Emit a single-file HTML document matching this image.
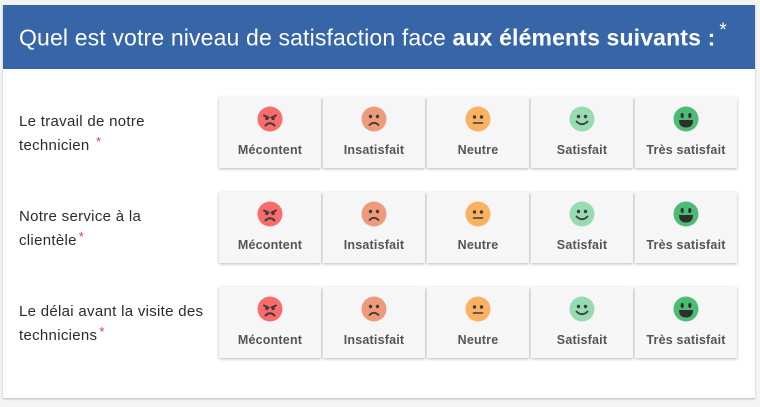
<!DOCTYPE html>
<html><head><meta charset="utf-8">
<style>
*{margin:0;padding:0;box-sizing:border-box}
html,body{width:760px;height:407px;background:#f4f4f4;overflow:hidden;font-family:"Liberation Sans",sans-serif}
.card{position:absolute;left:3px;top:5px;width:752px;height:393px;background:#fff;box-shadow:0 1px 2px rgba(0,0,0,.25)}
.hdr{position:absolute;left:0;top:0;width:752px;height:64px;background:#3665a8;color:#fff}
.hdr .t{position:absolute;left:16px;top:16px;font-size:23px;white-space:nowrap;letter-spacing:0.15px}
.hdr b{font-weight:bold}
.hdr sup{font-size:19px;position:relative;top:-1px;margin-left:4px}
.q{position:absolute;left:19px;font-size:15px;color:#2b2b2b;line-height:24px;letter-spacing:0.3px}
.q .s{color:#e8383d;font-size:13px;position:relative;top:-4px;margin-left:2px}
.btn{position:absolute;width:102px;height:71px;background:#f6f6f6;box-shadow:0 1px 3px rgba(0,0,0,.28)}
.btn svg{position:absolute;left:38px;top:9px}
.btn span{position:absolute;left:0;width:102px;top:46px;text-align:center;font-size:12.5px;font-weight:bold;color:#555;letter-spacing:0.2px}
</style></head><body>
<div class="card">
<div class="hdr"><div class="t">Quel est votre niveau de satisfaction face <b>aux éléments suivants :</b><sup>*</sup></div></div>
</div>

<div class="q" style="top:110px">Le travail de notre<br>technicien <span class="s">*</span></div>
<div class="q" style="top:205px">Notre service à la<br>clientèle<span class="s">*</span></div>
<div class="q" style="top:300px">Le délai avant la visite des<br>techniciens<span class="s">*</span></div>

<svg width="0" height="0" style="position:absolute">
<defs>
<g id="e1"><circle cx="13" cy="13" r="12.5" fill="#fa6b6b"/>
<path d="M7 9.5 L11.5 11.5 M19 9.5 L14.5 11.5" stroke="#3d3d3d" stroke-width="2" stroke-linecap="round"/>
<circle cx="9.8" cy="12.5" r="1.6" fill="#3d3d3d"/><circle cx="16.2" cy="12.5" r="1.6" fill="#3d3d3d"/>
<path d="M8.5 19.5 Q13 15 17.5 19.5" stroke="#3d3d3d" stroke-width="2" fill="none" stroke-linecap="round"/></g>
<g id="e2"><circle cx="13" cy="13" r="12.5" fill="#ef9a7c"/>
<circle cx="9.5" cy="10.5" r="1.7" fill="#3d3d3d"/><circle cx="16.5" cy="10.5" r="1.7" fill="#3d3d3d"/>
<path d="M8.5 19 Q13 14.5 17.5 19" stroke="#3d3d3d" stroke-width="1.8" fill="none" stroke-linecap="round"/></g>
<g id="e3"><circle cx="13" cy="13" r="12.5" fill="#fbb162"/>
<circle cx="9.5" cy="11" r="1.7" fill="#3d3d3d"/><circle cx="16.5" cy="11" r="1.7" fill="#3d3d3d"/>
<path d="M8.5 17 L17.5 17" stroke="#3d3d3d" stroke-width="1.6" stroke-linecap="round"/></g>
<g id="e4"><circle cx="13" cy="13" r="12.5" fill="#97dbb1"/>
<circle cx="9.5" cy="10.5" r="1.7" fill="#3d3d3d"/><circle cx="16.5" cy="10.5" r="1.7" fill="#3d3d3d"/>
<path d="M7.5 15.5 Q13 21 18.5 15.5" stroke="#3d3d3d" stroke-width="1.8" fill="none" stroke-linecap="round"/></g>
<g id="e5"><circle cx="13" cy="13" r="12.5" fill="#4cbb73"/>
<ellipse cx="9.2" cy="9.5" rx="1.6" ry="2.6" fill="#2f2f2f"/><ellipse cx="16.8" cy="9.5" rx="1.6" ry="2.6" fill="#2f2f2f"/>
<path d="M6 14 L20 14 Q20 21.5 13 21.5 Q6 21.5 6 14 Z" fill="#2f2f2f"/></g>
</defs></svg>

<!-- row 1 -->
<div class="btn" style="left:219px;top:97px"><svg width="26" height="26"><use href="#e1"/></svg><span>Mécontent</span></div>
<div class="btn" style="left:323px;top:97px"><svg width="26" height="26"><use href="#e2"/></svg><span>Insatisfait</span></div>
<div class="btn" style="left:427px;top:97px"><svg width="26" height="26"><use href="#e3"/></svg><span>Neutre</span></div>
<div class="btn" style="left:531px;top:97px"><svg width="26" height="26"><use href="#e4"/></svg><span>Satisfait</span></div>
<div class="btn" style="left:635px;top:97px"><svg width="26" height="26"><use href="#e5"/></svg><span>Très satisfait</span></div>
<!-- row 2 -->
<div class="btn" style="left:219px;top:192px"><svg width="26" height="26"><use href="#e1"/></svg><span>Mécontent</span></div>
<div class="btn" style="left:323px;top:192px"><svg width="26" height="26"><use href="#e2"/></svg><span>Insatisfait</span></div>
<div class="btn" style="left:427px;top:192px"><svg width="26" height="26"><use href="#e3"/></svg><span>Neutre</span></div>
<div class="btn" style="left:531px;top:192px"><svg width="26" height="26"><use href="#e4"/></svg><span>Satisfait</span></div>
<div class="btn" style="left:635px;top:192px"><svg width="26" height="26"><use href="#e5"/></svg><span>Très satisfait</span></div>
<!-- row 3 -->
<div class="btn" style="left:219px;top:287px"><svg width="26" height="26"><use href="#e1"/></svg><span>Mécontent</span></div>
<div class="btn" style="left:323px;top:287px"><svg width="26" height="26"><use href="#e2"/></svg><span>Insatisfait</span></div>
<div class="btn" style="left:427px;top:287px"><svg width="26" height="26"><use href="#e3"/></svg><span>Neutre</span></div>
<div class="btn" style="left:531px;top:287px"><svg width="26" height="26"><use href="#e4"/></svg><span>Satisfait</span></div>
<div class="btn" style="left:635px;top:287px"><svg width="26" height="26"><use href="#e5"/></svg><span>Très satisfait</span></div>
</body></html>
